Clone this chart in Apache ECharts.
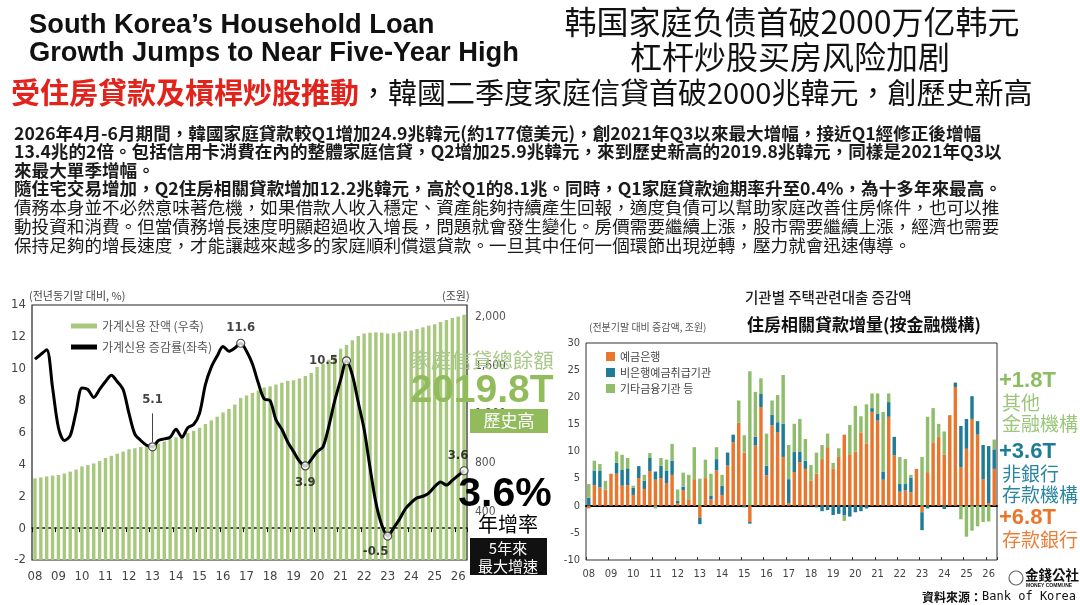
<!DOCTYPE html>
<html><head><meta charset="utf-8">
<script src="https://cdn.jsdelivr.net/npm/echarts@6/dist/echarts.min.js"></script>
<style>html,body{margin:0;padding:0;background:#fff}#c{width:1080px;height:605px}</style>
</head><body><div id="c"></div>
<script>
// ---------- DATA ----------
const years = ['08','09','10','11','12','13','14','15','16','17','18','19','20','21','22','23','24','25','26'];
const quarterNames = ['Q1','Q2','Q3','Q4'];
const categories = [];
years.forEach(y => quarterNames.forEach(q => categories.push(y + q)));
categories.length = 74; // 2008Q1 .. 2026Q2

// 가계신용 잔액 (조원, right axis)
const creditBalance = [
  672,680,688,695, 700,712,728,745, 770,782,795,815, 840,858,875,893,
  912,920,930,940, 945,958,975,995, 1010,1025,1045,1065, 1090,1120,1150,1180,
  1215,1245,1280,1335, 1355,1375,1395,1420, 1430,1445,1460,1475, 1480,1495,1515,1540,
  1590,1615,1650,1690, 1740,1770,1810,1845, 1865,1872,1875,1872, 1865,1868,1876,1885,
  1890,1902,1916,1930, 1942,1960,1976,1992, 2005,2020
];
// 가계신용 증감률 (% yoy, left axis)
const growth = [
  10.6,10.9,11.2,8.8, 6.3,5.5,5.8,7.3, 8.8,8.7,8.2,8.7, 9.2,9.6,9.2,8.7,
  7.2,5.9,5.5,5.2, 5.1,5.5,5.6,5.7, 6.2,5.7,6.3,6.5, 7.2,9.0,10.1,10.8,
  11.4,11.1,11.3,11.6, 11.1,10.3,9.1,8.1, 8.0,6.8,6.2,5.4, 4.8,4.2,3.9,4.3,
  4.8,5.1,6.4,8.0, 9.3,10.5,9.6,7.9, 6.2,3.8,1.6,0.2, -0.5,0.0,0.55,1.2,
  1.6,1.9,2.0,2.2, 2.6,2.9,2.7,3.0, 3.3,3.6
];
const highlightIdx = [20, 35, 46, 53, 60, 73];

// 기관별 주택관련대출 증감액 (조원)
const bankLoans = [
  -0.5,3.8,3.4,3.0, 5.9,5.9,3.7,3.8, 2.0,5.1,3.1,6.4, 4.8,5.1,4.2,5.7,
  0.5,2.9,1.2,4.9, -2.2,5.1,1.2,6.5, 2.0,7.4,11.7,15.3, 9.8,-3.0,11.1,18.2,
  5.6,14.8,13.5,9.0, 0.5,6.2,8.0,6.8, 4.6,5.9,8.6,10.8, 6.9,9.0,13.1,9.5,
  10.0,13.5,11.5,17.3, 15.7,4.8,16.4,9.3, 2.6,2.8,2.5,6.8, -1.2,6.2,11.7,12.7,
  9.4,16.7,21.9,7.1, 10.5,16.0,13.1,4.9, 0.5,6.8
];
const nonbankLoans = [
  1.5,2.7,3.1,0, 0,2.0,2.9,3.1, 1.3,2.2,1.5,2.4, 1.5,2.3,2.3,2.6,
  0.4,0.6,0,0, -1.2,0,0.7,2.1, 1.7,2.4,1.4,0, -0.3,-0.3,1.6,2.4,
  1.8,2.0,1.9,6.1, 4.4,3.7,2.0,1.5, 0,-0.3,-1.0,-0.8, -1.7,-1.5,-1.8,-2.0,
  -1.2,-1.0,-0.5,0.7, 1.3,1.5,2.7,3.4, 1.4,1.2,2.7,0, -3.3,-0.5,0,0,
  -0.6,0,0.8,7.6, 5.5,4.2,2.5,6.3, 10.5,3.6
];
const otherLoans = [
  2.5,1.8,1.2,1.6, 0,2.1,2.8,1.9, 0.4,0,1.1,0.9, -0.5,1.4,2.0,3.1,
  2.1,2.6,4.5,5.9, 5.0,3.4,4.0,2.2, 2.0,0,0,4.1, 3.2,24.8,8.3,2.9,
  5.9,2.6,5.0,9.0, 6.3,5.2,6.0,4.0, 2.9,3.9,2.6,2.5, 1.0,1.6,-1.0,5.4,
  8.4,3.0,7.2,2.7, 3.7,11.0,1.6,0, 5.0,4.6,0.5,0, 9.0,10.2,6.3,2.4,
  4.3,0,0,-2.5, -5.7,-4.6,-3.8,-3.0, -2.9,1.8
];

const bodyLines = [
  '2026年4月-6月期間，韓國家庭貸款較Q1增加24.9兆韓元(約177億美元)，創2021年Q3以來最大增幅，接近Q1經修正後增幅',
  '13.4兆的2倍。包括信用卡消費在內的整體家庭信貸，Q2增加25.9兆韓元，來到歷史新高的2019.8兆韓元，同樣是2021年Q3以',
  '來最大單季增幅。',
  '隨住宅交易增加，Q2住房相關貸款增加12.2兆韓元，高於Q1的8.1兆。同時，Q1家庭貸款逾期率升至0.4%，為十多年來最高。',
  '債務本身並不必然意味著危機，如果借款人收入穩定、資產能夠持續產生回報，適度負債可以幫助家庭改善住房條件，也可以推',
  '動投資和消費。但當債務增長速度明顯超過收入增長，問題就會發生變化。房價需要繼續上漲，股市需要繼續上漲，經濟也需要',
  '保持足夠的增長速度，才能讓越來越多的家庭順利償還貸款。一旦其中任何一個環節出現逆轉，壓力就會迅速傳導。'
];

// ---------- STYLE / LAYOUT ----------
const NUM = "'DejaVu Sans Condensed','Liberation Sans Narrow','Liberation Sans',sans-serif";
const TC = "'Noto Sans CJK TC','Noto Sans CJK SC',sans-serif";
const SC = "'Noto Sans CJK SC','Noto Sans CJK TC',sans-serif";
const KR = "'Noto Sans CJK KR',sans-serif";
const ARIAL = "'Liberation Sans',Arial,sans-serif";
const yearTick = (i) => i % 4 === 0;

const hlLabel = [
  {position:'top', distance:36},
  {position:'top', distance:5},
  {position:'bottom', distance:6},
  {position:'left', distance:4},
  {position:'bottom', distance:4, offset:[-12,0]},
  {position:'top', distance:4, offset:[-6,0]}
];

function txt(text, x, y, font, fill, align, extra) {
  return Object.assign({type:'text', x:x, y:y, z:100,
    style:{text:text, font:font, fill:fill, align:align||'left', verticalAlign:'middle',
           textAlign:align||'left', textVerticalAlign:'middle'}}, extra||{});
}

const graphics = [];
graphics.push(txt('South Korea\u2019s Household Loan', 29, 25, 'bold 27.3px ' + ARIAL, '#111'));
graphics.push(txt('Growth Jumps to Near Five-Year High', 29, 53, 'bold 27.3px ' + ARIAL, '#111'));
graphics.push(txt('韩国家庭负债首破2000万亿韩元', 792, 22, '32px ' + SC, '#111', 'center'));
graphics.push(txt('杠杆炒股买房风险加剧', 790, 57, '32px ' + SC, '#111', 'center'));
graphics.push({type:'text', x:11, y:93, z:100, style:{
  text:'{r|受住房貸款及槓桿炒股推動}{k|，韓國二季度家庭信貸首破2000兆韓元，創歷史新高}',
  verticalAlign:'middle', textVerticalAlign:'middle',
  rich:{
    r:{fill:'#e1231b', fontSize:29, fontWeight:'bold', fontFamily:TC},
    k:{fill:'#111', fontSize:29, fontFamily:TC}
  }}});
const bodyY = [133,151,170,188,207,226,245];
bodyLines.forEach((l, i) => {
  graphics.push(txt(l, 14, bodyY[i], (i < 4 ? 'bold ' : '') + '17.6px ' + TC, '#1a1a1a'));
});
// left chart annotations
graphics.push(txt('(전년동기말 대비, %)', 29, 296, '11px ' + KR, '#444'));
graphics.push(txt('(조원)', 442, 296, '11px ' + KR, '#444'));
graphics.push(txt('家庭信貸總餘額', 482, 360, '20.5px ' + TC, '#a8c98a', 'center'));
graphics.push(txt('2019.8T', 482, 391, 'bold 39px ' + ARIAL, '#92bc5b', 'center'));
graphics.push({type:'rect', z:99, shape:{x:470, y:409, width:78, height:24}, style:{fill:'#92bc5b'}});
graphics.push(txt('歷史高', 509, 421, '17px ' + TC, '#fff', 'center'));
graphics.push(txt('3.6%', 505, 495, 'bold 41px ' + ARIAL, '#000', 'center'));
graphics.push(txt('年增率', 508, 524, '20px ' + TC, '#000', 'center'));
graphics.push({type:'rect', z:99, shape:{x:470, y:538, width:77, height:37}, style:{fill:'#111'}});
graphics.push(txt('5年來', 508, 548, '15px ' + TC, '#fff', 'center'));
graphics.push(txt('最大增速', 508, 566, '15px ' + TC, '#fff', 'center'));
// right chart annotations
graphics.push(txt('기관별 주택관련대출 증감액', 745, 297, '500 14.5px ' + KR, '#222'));
graphics.push(txt('住房相關貸款增量(按金融機構)', 747, 325, 'bold 17px ' + TC, '#111'));
graphics.push(txt('(전분기말 대비 증감액, 조원)', 589, 327, '10px ' + KR, '#555'));
graphics.push(txt('+1.8T', 999, 381, 'bold 22px ' + ARIAL, '#8dbd62'));
graphics.push(txt('其他', 1002, 403, '19px ' + TC, '#9cc67a'));
graphics.push(txt('金融機構', 1002, 424, '19px ' + TC, '#9cc67a'));
graphics.push(txt('+3.6T', 999, 452, 'bold 22px ' + ARIAL, '#1e7d96'));
graphics.push(txt('非銀行', 1002, 474, '19px ' + TC, '#2a86a0'));
graphics.push(txt('存款機構', 1002, 495, '19px ' + TC, '#2a86a0'));
graphics.push(txt('+6.8T', 999, 518, 'bold 22px ' + ARIAL, '#e8772d'));
graphics.push(txt('存款銀行', 1002, 540, '19px ' + TC, '#ea7f3a'));
// logo + source
graphics.push({type:'circle', z:100, shape:{cx:1016, cy:578, r:7}, style:{fill:'#fff', stroke:'#666', lineWidth:1.2}});
graphics.push(txt('金錢公社', 1025, 575, 'bold 13.5px ' + TC, '#111'));
graphics.push(txt('MONEY COMMUNE', 1026, 586, 'bold 5px ' + ARIAL, '#111'));
graphics.push({type:'text', x:1076, y:597, z:100, style:{
  text:'{a|資料來源：}{b|Bank of Korea}', align:'right', textAlign:'right', verticalAlign:'middle', textVerticalAlign:'middle',
  rich:{a:{fill:'#111', fontSize:12, fontWeight:'bold', fontFamily:TC},
        b:{fill:'#111', fontSize:12, fontFamily:"'DejaVu Sans Mono','Liberation Mono',monospace"}}}});

const option = {
  animation:false,
  backgroundColor:'#ffffff',
  textStyle:{fontFamily:NUM},
  grid:[
    {left:32, top:305, width:435, height:255, show:true, borderColor:'#222', borderWidth:1.2, backgroundColor:'transparent'},
    {left:586, top:343, width:411, height:217, show:true, borderColor:'#333', borderWidth:1, backgroundColor:'transparent'}
  ],
  legend:[
    {data:[{name:'가계신용 잔액 (우축)', icon:'rect'}, {name:'가계신용 증감률(좌축)', icon:'rect'}],
     orient:'vertical', left:66, top:315, itemWidth:26, itemHeight:5, itemGap:9, selectedMode:false,
     textStyle:{fontSize:12, color:'#555', fontFamily:KR}},
    {data:['예금은행','비은행예금취급기관','기타금융기관 등'], icon:'rect',
     orient:'vertical', left:601, top:346, itemWidth:9, itemHeight:9, itemGap:5, selectedMode:false,
     textStyle:{fontSize:11, color:'#444', fontFamily:KR}}
  ],
  xAxis:[
    {type:'category', gridIndex:0, data:categories,
     axisLine:{show:false, onZero:false}, axisTick:{show:false},
     axisLabel:{interval:yearTick, formatter:v => v.slice(0,2), color:'#444', fontSize:13, fontFamily:NUM, margin:10}},
    {type:'category', gridIndex:0, data:categories, position:'top',
     axisLine:{show:true, onZero:true, onZeroAxisIndex:0, lineStyle:{color:'#111', width:1.5}},
     axisTick:{show:true, inside:true, interval:yearTick, length:4, lineStyle:{color:'#111', width:1}},
     axisLabel:{show:false}},
    {type:'category', gridIndex:1, data:categories,
     axisLine:{show:false, onZero:false},
     axisTick:{show:true, inside:true, length:3, interval:yearTick, lineStyle:{color:'#333'}},
     axisLabel:{interval:yearTick, formatter:v => v.slice(0,2), color:'#444', fontSize:11, fontFamily:NUM, margin:9}},
    {type:'category', gridIndex:1, data:categories, position:'top',
     axisLine:{show:true, onZero:true, onZeroAxisIndex:2, lineStyle:{color:'#000', width:1.8}},
     axisTick:{show:false}, axisLabel:{show:false}}
  ],
  yAxis:[
    {type:'value', gridIndex:0, min:-2, max:14, interval:2, splitLine:{show:false},
     axisLine:{show:false}, axisTick:{show:false},
     axisLabel:{color:'#444', fontSize:13, fontFamily:NUM, margin:6}},
    {type:'value', gridIndex:0, position:'right', min:0, max:2100, interval:400, splitLine:{show:false},
     axisLine:{show:false}, axisTick:{show:false},
     axisLabel:{showMinLabel:false, showMaxLabel:false, formatter:v => v.toLocaleString('en-US'),
                color:'#555', fontSize:12, fontFamily:NUM, margin:8}},
    {type:'value', gridIndex:1, min:-10, max:30, interval:5, splitLine:{show:false},
     axisLine:{show:false}, axisTick:{show:false},
     axisLabel:{color:'#444', fontSize:11, fontFamily:NUM, margin:6}}
  ],
  series:[
    {name:'가계신용 잔액 (우축)', type:'bar', xAxisIndex:0, yAxisIndex:1, data:creditBalance,
     barWidth:'58%', itemStyle:{color:'#a8c87d'}, z:1},
    {name:'가계신용 증감률(좌축)', type:'line', xAxisIndex:0, yAxisIndex:0, data:growth,
     smooth:0.3, symbol:'none', lineStyle:{color:'#000', width:3}, itemStyle:{color:'#000'}, z:5},
    {name:'highlight', type:'scatter', xAxisIndex:0, yAxisIndex:0, z:6,
     symbol:'circle', symbolSize:8,
     itemStyle:{color:'#fff', borderColor:'#222', borderWidth:1.2},
     label:{show:true, color:'#111', fontSize:13, fontFamily:NUM, fontWeight:'bold',
            formatter:p => String(p.value[1])},
     data:highlightIdx.map((i,k) => ({value:[categories[i], growth[i]], label:hlLabel[k]})),
     markLine:{silent:true, symbol:'none', label:{show:false}, lineStyle:{color:'#444', width:1, type:'solid'},
       data:[[{coord:[categories[highlightIdx[0]], growth[highlightIdx[0]] + 0.3]},
              {coord:[categories[highlightIdx[0]], growth[highlightIdx[0]] + 2.1]}]]}},
    {name:'예금은행', type:'bar', stack:'h', xAxisIndex:2, yAxisIndex:2, data:bankLoans,
     barWidth:'62%', itemStyle:{color:'#e8762d'}},
    {name:'비은행예금취급기관', type:'bar', stack:'h', xAxisIndex:2, yAxisIndex:2, data:nonbankLoans,
     barWidth:'62%', itemStyle:{color:'#1f7b96'}},
    {name:'기타금융기관 등', type:'bar', stack:'h', xAxisIndex:2, yAxisIndex:2, data:otherLoans,
     barWidth:'62%', itemStyle:{color:'#8fbd6c'}}
  ],
  graphic:graphics
};
const chart = echarts.init(document.getElementById('c'), null, {renderer:'canvas'});
chart.setOption(option);
</script>
</body></html>
